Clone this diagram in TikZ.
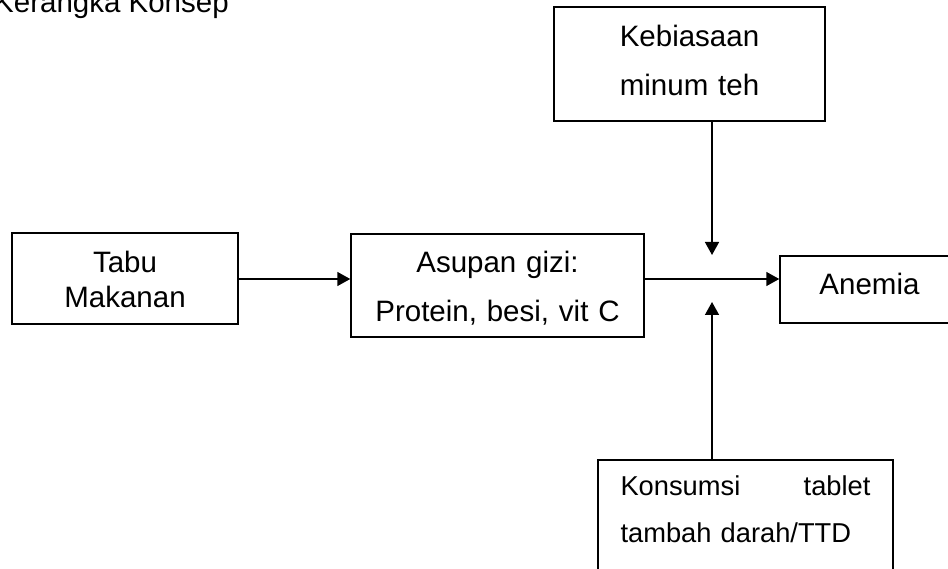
\documentclass[tikz,border=0pt]{standalone}
\usepackage{fontspec}
\setmainfont{Liberation Sans}
\usetikzlibrary{arrows.meta}
\begin{document}
\begin{tikzpicture}[x=1pt,y=-1pt,
  box/.style={draw, line width=1.5pt, inner sep=0pt, align=center,
    font=\fontsize{29.5}{49}\selectfont, text height=21pt},
  link/.style={line width=1.5pt, -{Triangle[length=13pt,width=14pt]}}]
  \path[use as bounding box, clip] (0,0) rectangle (948,569);

  % heading
  \node[anchor=base west, inner sep=0pt, font=\fontsize{29.5}{35}\selectfont]
    (title) at (-6,13) {Kerangka Konsep};

  % boxes
  \node[box, minimum width=226pt, minimum height=91pt, text width=200pt,
    text depth=32.6pt, font=\fontsize{29.5}{35}\selectfont]
    (tabu) at (125,278.5) {Tabu\\Makanan};
  \node[box, minimum width=293pt, minimum height=103pt, text width=280pt,
    text depth=46pt] (asupan) at (497.5,285.5) {Asupan gizi:\\Protein, besi, vit C};
  \node[box, minimum width=271pt, minimum height=114pt, text width=250pt,
    text depth=55pt] (teh) at (689.5,64) {Kebiasaan\\minum teh};
  \node[box, minimum width=179pt, minimum height=67pt, text depth=10pt]
    (anemia) at (869.5,289.5) {Anemia};
  \node[box, minimum width=295pt, minimum height=139pt, text width=250pt,
    align=left, text depth=90pt, font=\fontsize{27.3}{47}\selectfont]
    (ttd) at (745.5,529.5)
    {Konsumsi\hfill tablet\\tambah darah/TTD};

  % junction points
  \coordinate (j) at (712,279);
  \coordinate (jt) at (712,255);
  \coordinate (jb) at (712,302);

  % connectors
  \draw[link] (tabu.east |- j) -- (asupan.west |- j);
  \draw[link] (asupan.east |- j) -- (anemia.west |- j);
  \draw[link] (teh.south -| jt) -- (jt);
  \draw[link] (ttd.north -| jb) -- (jb);
\end{tikzpicture}
\end{document}
